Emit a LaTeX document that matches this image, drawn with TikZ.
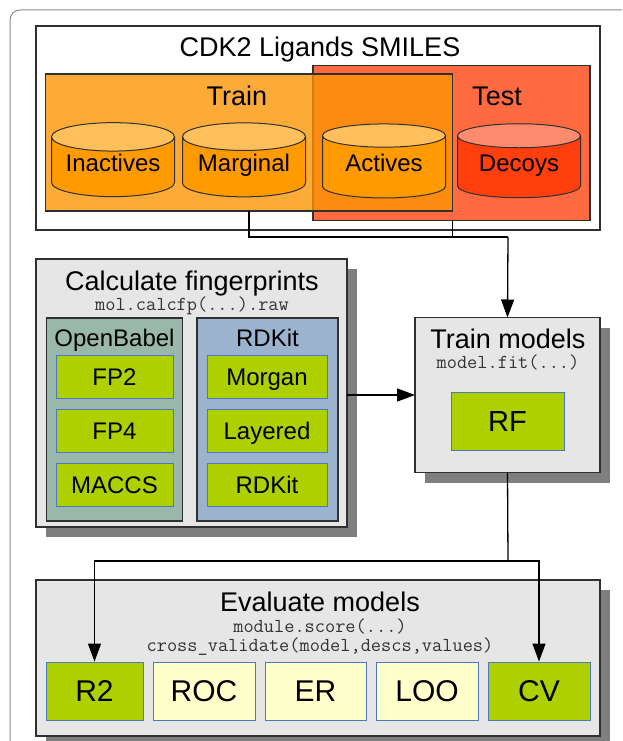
\documentclass[tikz,border=0pt]{standalone}
\usepackage{fontspec}
\setmainfont{Liberation Sans}
\usetikzlibrary{shapes.geometric,shadows,arrows.meta}
\definecolor{FrameGray}{HTML}{8C8C8C}
\definecolor{LineGray}{HTML}{303030}
\definecolor{TrainOrange}{HTML}{FC9503}
\definecolor{TestRed}{HTML}{FF6A40}
\definecolor{CylTop}{HTML}{FFC05C}
\definecolor{CylBody}{HTML}{FF9A00}
\definecolor{DecoyTop}{HTML}{FF8B6E}
\definecolor{DecoyBody}{HTML}{FF3F0D}
\definecolor{PanelGray}{HTML}{E6E6E6}
\definecolor{ShadowGray}{HTML}{7F7F7F}
\definecolor{BabelGreen}{HTML}{9AB8A9}
\definecolor{RDKitBlue}{HTML}{9BB3CE}
\definecolor{MethodGreen}{HTML}{AECF00}
\definecolor{MethodBorder}{HTML}{4A78C2}
\definecolor{MetricYellow}{HTML}{FFFFCC}
\definecolor{CodeGray}{HTML}{333333}

\tikzset{
  box/.style={draw=LineGray, line width=1.3pt, inner sep=0pt, outer sep=0pt},
  shadowbox/.style={box, fill=PanelGray,
    drop shadow={shadow xshift=10pt, shadow yshift=-10pt, fill=ShadowGray, opacity=1}},
  method/.style={draw=MethodBorder, line width=0.9pt, fill=MethodGreen, inner sep=0pt,
    minimum height=43pt, text height=17.2pt, text depth=0pt, font=\fontsize{24}{26}\selectfont},
  metric/.style={method, minimum height=58pt, text height=21.5pt, font=\fontsize{30}{32}\selectfont},
  db/.style={cylinder, shape border rotate=90, aspect=0.3, draw=LineGray, line width=1pt,
    cylinder uses custom fill, minimum width=123pt, minimum height=74pt, inner sep=0pt,
    text height=17.2pt, text depth=8pt, font=\fontsize{24}{26}\selectfont},
  title/.style={anchor=base, inner sep=0pt, font=\fontsize{27}{30}\selectfont},
  sublabel/.style={anchor=base, inner sep=0pt, font=\fontsize{24}{26}\selectfont},
  code/.style={anchor=base, inner sep=0pt, text=CodeGray, font=\ttfamily\fontsize{19.8}{21}\selectfont},
  flow/.style={draw=black, line width=1.3pt},
  tip/.style={flow, -{Triangle[length=18pt,width=13pt]}}
}

\begin{document}
\begin{tikzpicture}[x=1pt, y=-1pt]
  \useasboundingbox (0,0) rectangle (622,741);
  \clip (0,0) rectangle (622,741);
  \draw[FrameGray, line width=1pt, rounded corners=10pt] (10,760) |- (640,10);

  \node[box, fill=white, minimum width=564pt, minimum height=204pt] (smiles) at (318,128) {};
  \node[title] (smilestitle) at (320,57) {CDK2 Ligands SMILES};
  \node[box, fill=TestRed, minimum width=277pt, minimum height=155pt] (test) at (451.5,143) {};
  \node[box, fill=TrainOrange, fill opacity=0.79, minimum width=407pt, minimum height=137pt] (train) at (249,142.5) {};
  \node[title] (trainlabel) at (237,106) {Train};
  \node[title] (testlabel) at (497,106) {Test};
  \node[db, cylinder body fill=CylBody, cylinder end fill=CylTop] (inactives) at (113,167) {Inactives};
  \node[db, cylinder body fill=CylBody, cylinder end fill=CylTop] (marginal) at (244,167) {Marginal};
  \node[db, cylinder body fill=CylBody, cylinder end fill=CylTop] (actives) at (384,167) {Actives};
  \node[db, cylinder body fill=DecoyBody, cylinder end fill=DecoyTop] (decoys) at (519,167) {Decoys};

  \node[shadowbox, minimum width=311pt, minimum height=268pt] (fps) at (191.5,393) {};
  \node[title] (fpstitle) at (192,290) {Calculate fingerprints};
  \node[code] (fpscode) at (192,310) {mol.calcfp(...).raw};
  \node[box, fill=BabelGreen, minimum width=136pt, minimum height=203pt] (babel) at (114.5,419.5) {};
  \node[sublabel] (babellabel) at (114.5,346) {OpenBabel};
  \node[box, fill=RDKitBlue, minimum width=141pt, minimum height=203pt] (rdkit) at (267.5,419.5) {};
  \node[sublabel] (rdkitlabel) at (267.5,346) {RDKit};
  \node[method, minimum width=117pt] (fp2) at (114.5,377) {FP2};
  \node[method, minimum width=117pt] (fp4) at (114.5,431) {FP4};
  \node[method, minimum width=117pt] (maccs) at (114.5,485) {MACCS};
  \node[method, minimum width=120pt] (morgan) at (267,377) {Morgan};
  \node[method, minimum width=120pt] (layered) at (267,431) {Layered};
  \node[method, minimum width=120pt] (rdkitfp) at (267,485) {RDKit};

  \node[shadowbox, minimum width=185pt, minimum height=155pt] (models) at (507.5,395) {};
  \node[title] (modelstitle) at (508,348) {Train models};
  \node[code] (modelscode) at (508,368) {model.fit(...)};
  \node[method, minimum width=113pt, minimum height=58pt, text height=20.8pt, font=\fontsize{29}{31}\selectfont] (rf) at (507.5,421.5) {RF};

  \node[shadowbox, minimum width=564pt, minimum height=156pt] (evaluate) at (318,658) {};
  \node[title] (evaltitle) at (320,611) {Evaluate models};
  \node[code] (evalcode) at (320,632) {module.score(...)};
  \node[code] (cvcode) at (320,651) {cross\_validate(model,descs,values)};
  \node[metric, minimum width=97pt] (r2) at (94.5,691) {R2};
  \node[metric, fill=MetricYellow, minimum width=102pt] (roc) at (204,691) {ROC};
  \node[metric, fill=MetricYellow, minimum width=101pt] (er) at (315.5,691) {ER};
  \node[metric, fill=MetricYellow, minimum width=102pt] (loo) at (427,691) {LOO};
  \node[metric, minimum width=102pt] (cv) at (539,691) {CV};

  \coordinate (merge) at (508,237);
  \coordinate (split) at (508,561);
  \draw[flow] (train.south) |- (merge);
  \draw[flow] (train.south east |- test.south) -- (train.south east |- merge);
  \draw[tip] (merge) -- (models.north);
  \draw[tip] (fps.east |- models.west) -- (models.west);
  \draw[flow] (models.south) -- (split);
  \draw[tip] (split) -| (r2.north);
  \draw[tip] (split) -| (cv.north);
\end{tikzpicture}
\end{document}
